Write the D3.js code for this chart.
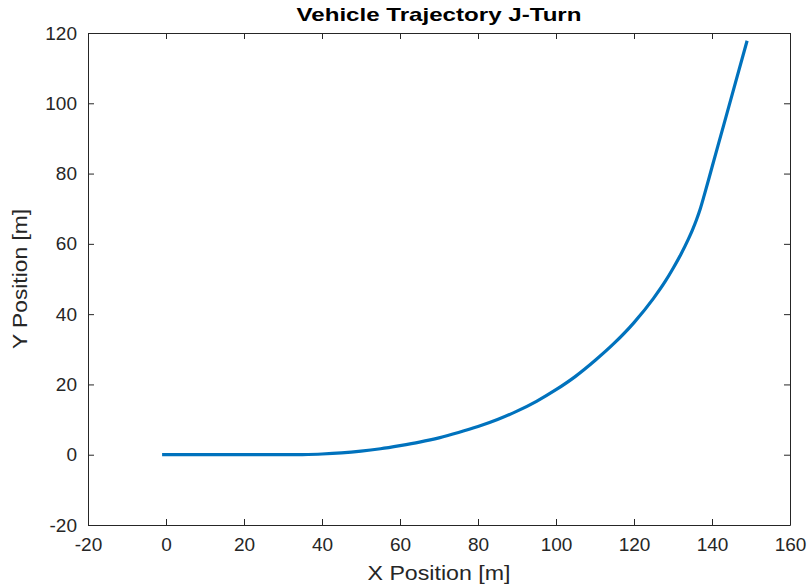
<!DOCTYPE html>
<html>
<head>
<meta charset="utf-8">
<script src="https://cdn.jsdelivr.net/npm/d3@7"></script>
<style>
  body { margin: 0; background: #fff; }
  text { font-family: "Liberation Sans", Arial, sans-serif; fill: #262626; }
</style>
</head>
<body>
<svg id="chart" width="811" height="586"></svg>
<script>
// trajectory samples
var xPos = [-1, 0, 10, 20, 30, 35, 40, 45, 50, 55, 60, 65, 70, 75, 80, 85, 90, 95, 100, 105, 110, 115, 120, 125, 128, 130, 132, 134, 135, 136, 137, 138, 140, 143, 146, 149];
var yPos = [0, 0, 0, 0, 0, 0.05, 0.2, 0.5, 1.0, 1.7, 2.6, 3.6, 4.8, 6.3, 8.0, 10.0, 12.4, 15.2, 18.5, 22.3, 26.8, 31.8, 37.6, 44.5, 49.3, 53, 57, 61.5, 64, 66.8, 70, 73.8, 81.8, 93.8, 105.8, 117.8];
var xTicks = [-20, 0, 20, 40, 60, 80, 100, 120, 140, 160];
var yTicks = [-20, 0, 20, 40, 60, 80, 100, 120];

var svg = d3.select("#chart"),
    margin = {top: 33, right: 21, bottom: 61, left: 88},
    width = 811 - margin.left - margin.right,
    height = 586 - margin.top - margin.bottom;

var g = svg.append("g").attr("transform", "translate(" + margin.left + "," + margin.top + ")");

var x = d3.scaleLinear().domain([-20, 160]).range([0, width]);
var y = d3.scaleLinear().domain([-20, 120]).range([height, 0]);

var tickLen = 6;
// plain hyphen for negatives, like the original
var fmt = function(d) { return String(d); };

// bottom axis
var xAxis = g.append("g")
    .attr("transform", "translate(0," + height + ")")
    .call(d3.axisBottom(x).tickValues(xTicks).tickFormat(fmt).tickSizeInner(-tickLen).tickSizeOuter(0).tickPadding(13));
// left axis
var yAxis = g.append("g")
    .call(d3.axisLeft(y).tickValues(yTicks).tickFormat(fmt).tickSizeInner(-tickLen).tickSizeOuter(0).tickPadding(11));
// top and right (box)
var topAxis = g.append("g")
    .call(d3.axisTop(x).tickValues(xTicks).tickSizeInner(-tickLen).tickSizeOuter(0).tickFormat(""));
var rightAxis = g.append("g")
    .attr("transform", "translate(" + width + ",0)")
    .call(d3.axisRight(y).tickValues(yTicks).tickSizeInner(-tickLen).tickSizeOuter(0).tickFormat(""));

[xAxis, yAxis, topAxis, rightAxis].forEach(function(a) {
  a.selectAll("path").attr("stroke", "#262626").attr("stroke-width", 1);
  a.selectAll("line").attr("stroke", "#262626").attr("stroke-width", 1);
  a.selectAll("text").attr("font-size", "19px").style("fill", "#262626")
    .attr("font-family", "'Liberation Sans', Arial, sans-serif");
});

// trajectory line
var pts = xPos.map(function(v, i) { return [v, yPos[i]]; });
var line = d3.line()
    .x(function(d) { return x(d[0]); })
    .y(function(d) { return y(d[1]); })
    .curve(d3.curveMonotoneX);

g.append("path")
  .datum(pts)
  .attr("fill", "none")
  .attr("stroke", "#0072BD")
  .attr("stroke-width", 3.2)
  .attr("stroke-linejoin", "round")
  .attr("d", line);

// title
svg.append("text")
  .attr("x", margin.left + width / 2)
  .attr("y", 21)
  .attr("text-anchor", "middle")
  .attr("font-size", "18.5px")
  .attr("font-weight", "bold")
  .attr("textLength", 285)
  .attr("lengthAdjust", "spacingAndGlyphs")
  .style("fill", "#000")
  .text("Vehicle Trajectory J-Turn");

// x label
svg.append("text")
  .attr("x", margin.left + width / 2)
  .attr("y", 580)
  .attr("text-anchor", "middle")
  .attr("font-size", "20px")
  .attr("textLength", 143)
  .attr("lengthAdjust", "spacingAndGlyphs")
  .text("X Position [m]");

// y label
svg.append("text")
  .attr("transform", "translate(27," + (margin.top + height / 2) + ") rotate(-90)")
  .attr("text-anchor", "middle")
  .attr("font-size", "20px")
  .attr("textLength", 140)
  .attr("lengthAdjust", "spacingAndGlyphs")
  .text("Y Position [m]");
</script>
</body>
</html>
